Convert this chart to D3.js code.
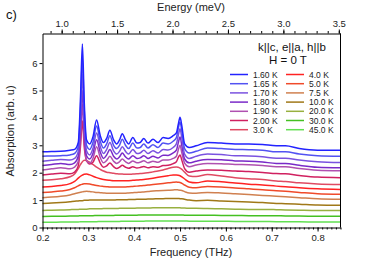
<!DOCTYPE html>
<html>
<head>
<meta charset="utf-8">
<script src="https://cdn.jsdelivr.net/npm/d3@7"></script>
<style>
  body { margin: 0; background: #fff; }
  text { font-family: "Liberation Sans", Arial, sans-serif; }
</style>
</head>
<body>
<svg width="374" height="259"></svg>
<script>
// frequency grid (THz), denser around the sharp modes
const freq = [0.20, 0.22, 0.24, 0.26, 0.27, 0.278, 0.283, 0.287, 0.291, 0.296,
  0.303, 0.31, 0.318, 0.326, 0.333, 0.34, 0.347, 0.355, 0.362, 0.368,
  0.374, 0.381, 0.388, 0.397, 0.406, 0.413, 0.421, 0.43, 0.441, 0.452,
  0.463, 0.474, 0.485, 0.492, 0.496, 0.50, 0.504, 0.51, 0.52, 0.535,
  0.56, 0.59, 0.62, 0.65, 0.68, 0.71, 0.73, 0.76, 0.80, 0.85];

const temps = ['1.60 K', '1.65 K', '1.70 K', '1.80 K', '1.90 K', '2.00 K', '3.0 K',
  '4.0 K', '5.0 K', '7.5 K', '10.0 K', '20.0 K', '30.0 K', '45.0 K'];
const colors = ['#2323ff', '#5252f2', '#7a52e0', '#7a2ac8', '#b050b0', '#d02060', '#e04a62',
  '#ff2222', '#f04a2a', '#d08050', '#a07818', '#98b040', '#44c022', '#62e052'];

// absorption values (offset curves), one array per temperature
const s160 = [2.76, 2.77, 2.78, 2.82, 2.85, 3.1, 4.8, 6.7, 4.6, 3.2, 3.05, 3.3, 3.92, 3.35, 3.1, 3.25, 3.55, 3.2, 3.05, 3.2, 3.42, 3.2, 3.05, 3.28, 3.08, 3.1, 3.25, 3.08, 3.22, 3.1, 3.28, 3.25, 3.35, 3.45, 3.75, 4.02, 3.7, 3.05, 2.92, 2.98, 3.1, 3.08, 3.05, 3.05, 3.03, 2.98, 2.98, 2.88, 2.82, 2.82];
const s165 = [2.60, 2.61, 2.62, 2.65, 2.7, 2.95, 4.4, 6.2, 4.3, 3.0, 2.85, 3.1, 3.7, 3.15, 2.9, 3.05, 3.35, 3.0, 2.88, 3.0, 3.22, 3.0, 2.88, 3.08, 2.9, 2.92, 3.05, 2.9, 3.02, 2.92, 3.08, 3.05, 3.15, 3.28, 3.6, 3.85, 3.5, 2.88, 2.72, 2.78, 2.9, 2.88, 2.85, 2.84, 2.82, 2.76, 2.76, 2.68, 2.62, 2.60];
const s170 = [2.42, 2.45, 2.48, 2.46, 2.52, 2.78, 4.0, 5.6, 3.9, 2.8, 2.65, 2.88, 3.45, 2.95, 2.7, 2.85, 3.1, 2.8, 2.68, 2.78, 2.95, 2.78, 2.68, 2.85, 2.7, 2.72, 2.82, 2.7, 2.8, 2.72, 2.85, 2.83, 2.92, 3.05, 3.35, 3.6, 3.25, 2.68, 2.52, 2.6, 2.68, 2.66, 2.62, 2.61, 2.58, 2.53, 2.53, 2.46, 2.4, 2.37];
const s180 = [2.26, 2.3, 2.34, 2.3, 2.36, 2.6, 3.6, 5.0, 3.5, 2.62, 2.5, 2.7, 3.2, 2.75, 2.52, 2.65, 2.85, 2.6, 2.5, 2.58, 2.72, 2.58, 2.5, 2.62, 2.52, 2.54, 2.62, 2.52, 2.6, 2.54, 2.64, 2.63, 2.72, 2.82, 3.08, 3.3, 2.98, 2.5, 2.36, 2.42, 2.48, 2.47, 2.43, 2.42, 2.39, 2.34, 2.34, 2.27, 2.2, 2.18];
const s190 = [2.10, 2.14, 2.18, 2.14, 2.2, 2.42, 3.3, 4.5, 3.2, 2.45, 2.35, 2.52, 2.95, 2.55, 2.36, 2.45, 2.6, 2.42, 2.34, 2.4, 2.5, 2.4, 2.34, 2.43, 2.36, 2.38, 2.44, 2.36, 2.42, 2.38, 2.46, 2.46, 2.52, 2.6, 2.82, 3.0, 2.72, 2.35, 2.22, 2.28, 2.34, 2.33, 2.3, 2.29, 2.26, 2.22, 2.22, 2.15, 2.09, 2.07];
const s200 = [1.92, 1.95, 1.98, 1.96, 2.02, 2.25, 3.0, 3.9, 2.95, 2.45, 2.32, 2.38, 2.62, 2.35, 2.2, 2.25, 2.35, 2.22, 2.15, 2.2, 2.27, 2.2, 2.16, 2.22, 2.17, 2.19, 2.23, 2.18, 2.22, 2.2, 2.26, 2.27, 2.33, 2.4, 2.55, 2.65, 2.45, 2.15, 2.02, 2.06, 2.1, 2.09, 2.06, 2.04, 2.01, 1.97, 1.96, 1.9, 1.84, 1.82];
const s300 = [1.72, 1.74, 1.78, 1.85, 1.95, 2.15, 2.3, 2.4, 2.45, 2.44, 2.38, 2.3, 2.2, 2.12, 2.06, 2.02, 2.0, 1.98, 1.96, 1.95, 1.95, 1.94, 1.94, 1.95, 1.96, 1.97, 1.98, 2.0, 2.03, 2.06, 2.1, 2.15, 2.2, 2.21, 2.2, 2.17, 2.12, 2.02, 1.88, 1.86, 1.93, 1.88, 1.82, 1.78, 1.75, 1.7, 1.68, 1.63, 1.59, 1.57];
const s400 = [1.48, 1.5, 1.53, 1.6, 1.68, 1.8, 1.87, 1.91, 1.94, 1.95, 1.92, 1.87, 1.82, 1.78, 1.75, 1.73, 1.72, 1.71, 1.71, 1.71, 1.71, 1.71, 1.71, 1.72, 1.73, 1.74, 1.75, 1.77, 1.8, 1.83, 1.86, 1.89, 1.92, 1.92, 1.91, 1.89, 1.85, 1.77, 1.66, 1.63, 1.7, 1.67, 1.62, 1.58, 1.55, 1.51, 1.49, 1.45, 1.41, 1.39];
const s500 = [1.28, 1.3, 1.33, 1.39, 1.45, 1.52, 1.56, 1.58, 1.6, 1.6, 1.59, 1.56, 1.53, 1.51, 1.5, 1.49, 1.48, 1.48, 1.48, 1.48, 1.48, 1.48, 1.49, 1.5, 1.51, 1.52, 1.53, 1.55, 1.57, 1.59, 1.61, 1.63, 1.65, 1.66, 1.65, 1.64, 1.61, 1.55, 1.47, 1.45, 1.5, 1.48, 1.44, 1.41, 1.38, 1.34, 1.32, 1.28, 1.23, 1.21];
const s750 = [1.09, 1.11, 1.14, 1.19, 1.23, 1.27, 1.29, 1.3, 1.31, 1.32, 1.31, 1.3, 1.28, 1.27, 1.26, 1.25, 1.25, 1.25, 1.25, 1.25, 1.25, 1.25, 1.26, 1.27, 1.28, 1.29, 1.3, 1.31, 1.33, 1.34, 1.35, 1.36, 1.37, 1.38, 1.37, 1.36, 1.35, 1.31, 1.26, 1.25, 1.28, 1.26, 1.23, 1.2, 1.17, 1.14, 1.12, 1.09, 1.05, 1.03];
const s1000 = [0.88, 0.89, 0.91, 0.94, 0.96, 0.97, 0.98, 0.98, 0.99, 0.99, 1.0, 1.0, 1.0, 1.0, 1.0, 1.0, 1.0, 1.0, 1.01, 1.01, 1.01, 1.01, 1.02, 1.02, 1.03, 1.03, 1.03, 1.04, 1.04, 1.05, 1.05, 1.06, 1.06, 1.06, 1.06, 1.05, 1.05, 1.03, 1.0, 0.98, 0.99, 0.97, 0.95, 0.93, 0.91, 0.88, 0.87, 0.85, 0.82, 0.81];
const s2000 = [0.62, 0.63, 0.64, 0.65, 0.66, 0.66, 0.67, 0.67, 0.67, 0.67, 0.68, 0.68, 0.68, 0.68, 0.69, 0.69, 0.69, 0.69, 0.69, 0.7, 0.7, 0.7, 0.7, 0.7, 0.71, 0.71, 0.71, 0.71, 0.72, 0.72, 0.72, 0.72, 0.72, 0.72, 0.72, 0.72, 0.71, 0.71, 0.7, 0.7, 0.69, 0.68, 0.67, 0.66, 0.66, 0.65, 0.64, 0.63, 0.62, 0.62];
const s3000 = [0.40, 0.41, 0.41, 0.42, 0.42, 0.42, 0.43, 0.43, 0.43, 0.43, 0.43, 0.43, 0.44, 0.44, 0.44, 0.44, 0.44, 0.44, 0.45, 0.45, 0.45, 0.45, 0.45, 0.45, 0.45, 0.46, 0.46, 0.46, 0.46, 0.46, 0.46, 0.46, 0.46, 0.46, 0.46, 0.46, 0.46, 0.45, 0.45, 0.45, 0.45, 0.44, 0.44, 0.43, 0.43, 0.43, 0.42, 0.42, 0.41, 0.41];
const s4500 = [0.19, 0.19, 0.2, 0.2, 0.2, 0.2, 0.21, 0.21, 0.21, 0.21, 0.21, 0.21, 0.21, 0.22, 0.22, 0.22, 0.22, 0.22, 0.22, 0.22, 0.23, 0.23, 0.23, 0.23, 0.23, 0.23, 0.23, 0.24, 0.24, 0.24, 0.24, 0.24, 0.24, 0.24, 0.24, 0.24, 0.24, 0.24, 0.23, 0.23, 0.23, 0.23, 0.22, 0.22, 0.22, 0.21, 0.21, 0.21, 0.2, 0.2];

const series = [s160, s165, s170, s180, s190, s200, s300, s400, s500, s750, s1000, s2000, s3000, s4500];

const freqTicks = [0.2, 0.3, 0.4, 0.5, 0.6, 0.7, 0.8];
const energyTicks = [1.0, 1.5, 2.0, 2.5, 3.0, 3.5];
const absTicks = [0, 1, 2, 3, 4, 5, 6];

const svg = d3.select('svg');
const mLeft = 42.5, mRight = 340.5, mTop = 33.5, mBottom = 227.5;
const thzToMeV = 4.1357;

const x = d3.scaleLinear().domain([0.2, 0.85]).range([mLeft, mRight]);
const xE = d3.scaleLinear().domain([0.2 * thzToMeV, 0.85 * thzToMeV]).range([mLeft, mRight]);
const y = d3.scaleLinear().domain([0, 7.08]).range([mBottom, mTop]);

const line = d3.line()
    .x((d, i) => x(freq[i]))
    .y(d => y(d))
    .curve(d3.curveMonotoneX);

// warmest first so the blue curve sits on top
const linesG = svg.append('g');
series.slice().reverse().forEach((s, k) => {
  const i = series.length - 1 - k;
  linesG.append('path')
      .attr('d', line(s))
      .attr('fill', 'none')
      .attr('stroke', colors[i])
      .attr('stroke-width', 1.5)
      .attr('stroke-linejoin', 'round');
});

function styleAxis(g) {
  g.attr('font-family', null);
  g.selectAll('text').attr('font-size', 9.5).attr('fill', '#222');
  g.selectAll('line, path').attr('stroke', '#000');
}

// bottom axis
svg.append('g')
    .attr('transform', `translate(0,${mBottom})`)
    .call(d3.axisBottom(x).tickValues(d3.range(20, 86).map(d => d / 100)).tickSize(2).tickSizeOuter(0).tickFormat(''))
    .call(g => g.select('.domain').remove())
    .call(styleAxis);
svg.append('g')
    .attr('transform', `translate(0,${mBottom})`)
    .call(d3.axisBottom(x).tickValues(freqTicks).tickSize(4).tickSizeOuter(0).tickPadding(3).tickFormat(d3.format('.1f')))
    .call(styleAxis);

// top axis, energy
svg.append('g')
    .attr('transform', `translate(0,${mTop})`)
    .call(d3.axisTop(xE).tickValues(d3.range(9, 36).map(d => d / 10)).tickSize(2.5).tickSizeOuter(0).tickFormat(''))
    .call(g => g.select('.domain').remove())
    .call(styleAxis);
svg.append('g')
    .attr('transform', `translate(0,${mTop})`)
    .call(d3.axisTop(xE).tickValues(energyTicks).tickSize(4).tickSizeOuter(0).tickPadding(3).tickFormat(d3.format('.1f')))
    .call(styleAxis);

// left axis
svg.append('g')
    .attr('transform', `translate(${mLeft},0)`)
    .call(d3.axisLeft(y).tickValues(absTicks).tickSize(3).tickSizeOuter(0).tickPadding(2).tickFormat(d3.format('d')))
    .call(styleAxis);

// right frame
svg.append('line')
    .attr('x1', mRight).attr('x2', mRight)
    .attr('y1', mTop).attr('y2', mBottom)
    .attr('stroke', '#000');

// titles
svg.append('text').attr('x', 191).attr('y', 11).attr('text-anchor', 'middle')
    .attr('font-size', 11).attr('fill', '#222').text('Energy (meV)');
svg.append('text').attr('x', 191).attr('y', 256).attr('text-anchor', 'middle')
    .attr('font-size', 11).attr('fill', '#222').text('Frequency (THz)');
svg.append('text').attr('transform', 'translate(14,131) rotate(-90)').attr('text-anchor', 'middle')
    .attr('font-size', 11).attr('fill', '#222').text('Absorption (arb. u)');
svg.append('text').attr('x', 6).attr('y', 19).attr('font-size', 13).attr('fill', '#111').text('c)');

svg.append('text').attr('x', 292).attr('y', 51).attr('text-anchor', 'middle')
    .attr('font-size', 11.5).attr('fill', '#111').text('k||c, e||a, h||b');
svg.append('text').attr('x', 288).attr('y', 64).attr('text-anchor', 'middle')
    .attr('font-size', 11.5).attr('fill', '#111').text('H = 0 T');

// legend, two columns of seven
const legend = svg.append('g');
temps.forEach((t, i) => {
  const col = Math.floor(i / 7), row = i % 7;
  const lx = col === 0 ? 230 : 286;
  const ly = 74.5 + row * 9.2;
  legend.append('line')
      .attr('x1', lx).attr('x2', lx + 18)
      .attr('y1', ly).attr('y2', ly)
      .attr('stroke', colors[i]).attr('stroke-width', 1.5);
  legend.append('text')
      .attr('x', lx + 23).attr('y', ly + 3)
      .attr('font-size', 8.5).attr('fill', '#222')
      .text(t);
});
</script>
</body>
</html>
